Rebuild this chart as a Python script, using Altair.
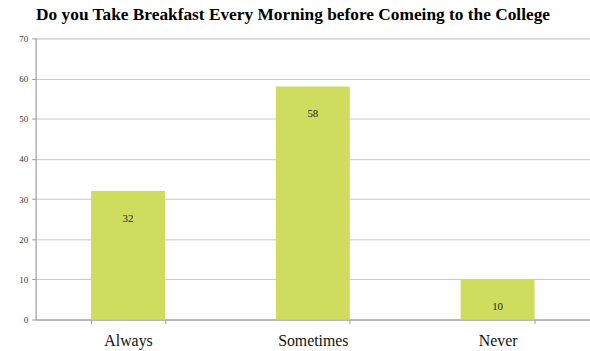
import altair as alt
import pandas as pd

categories = ["Always", "Sometimes", "Never"]
values = [32, 58, 10]

df = pd.DataFrame({"cat": categories, "val": values})

base = alt.Chart(df).encode(
    x=alt.X("cat:N", sort=categories, title=None,
            scale=alt.Scale(paddingInner=0.6, paddingOuter=0.3),
            axis=alt.Axis(labelAngle=0, labelFont="Liberation Serif", labelFontSize=16,
                          labelColor="#111", labelPadding=9, tickBand="extent",
                          domainColor="#999", tickColor="#999", tickSize=4)),
)

bars = base.mark_bar(color="#cfdd5e").encode(
    y=alt.Y("val:Q", title=None, scale=alt.Scale(domain=[0, 70]),
            axis=alt.Axis(values=list(range(0, 71, 10)), labelFont="Liberation Serif",
                          labelFontSize=9, labelColor="#333", gridColor="#c8c8c8",
                          domainColor="#999", tickColor="#999", tickSize=4, labelPadding=4))
)

labels = base.mark_text(dy=28, font="Liberation Serif", fontSize=11, color="#222").encode(
    y="val:Q", text="val:Q"
)

chart = (bars + labels).properties(
    width=560, height=284,
    title=alt.TitleParams("Do you Take Breakfast Every Morning before Comeing to the College",
                          font="Liberation Serif", fontSize=17.5, fontWeight="bold",
                          color="#000", anchor="middle", dx=-20, offset=11),
    autosize=alt.AutoSizeParams(type="none"),
    padding={"left": 36, "top": 37, "right": 0, "bottom": 30},
).configure_view(stroke=None).configure(background="white")

chart.save("out.html", embed_options={"renderer": "svg", "actions": False})
